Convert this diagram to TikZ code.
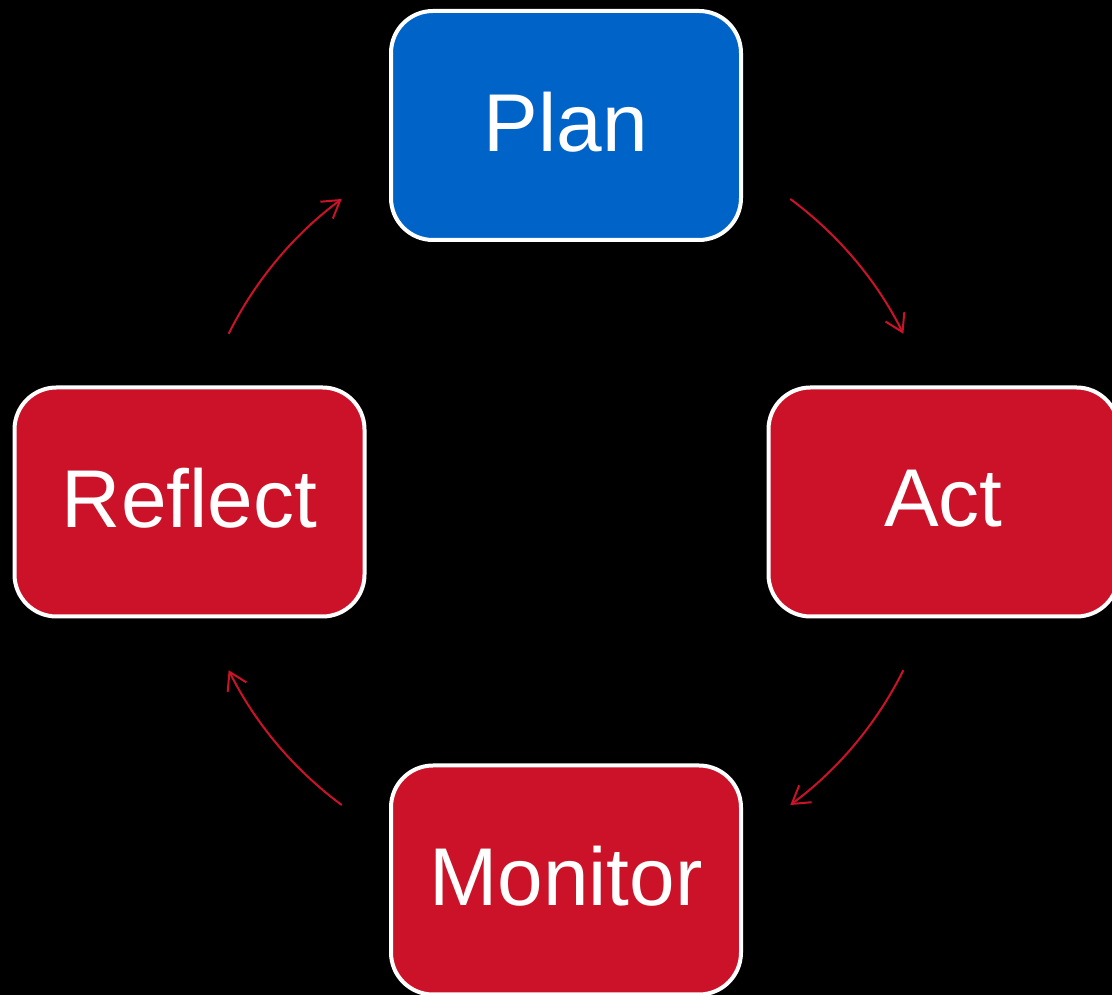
\documentclass[tikz,border=0pt]{standalone}
\usepackage{fontspec}
\setmainfont{Liberation Sans}
\usetikzlibrary{arrows.meta}
\definecolor{planblue}{RGB}{0,99,200}
\definecolor{stagered}{RGB}{204,18,40}
\begin{document}
\begin{tikzpicture}[x=1pt,y=1pt,
  stagebox/.style={draw=white, line width=4pt, rounded corners=42pt,
    minimum width=350pt, minimum height=229pt, inner sep=0pt,
    text=white, text depth=8pt, font=\fontsize{82}{98}\selectfont},
  cyc/.style={draw=stagered, line width=2pt,
    -{Straight Barb[length=17pt,width=21pt,line width=2pt]}}]
  % canvas and fixed frame
  \fill[black] (0,0) rectangle (1112,995);
  \useasboundingbox (0,0) rectangle (1112,995);

  % the four stages of the cycle
  \node[stagebox, fill=planblue] (plan)    at (566,869.5) {Plan};
  \node[stagebox, fill=stagered] (act)     at (943.5,493) {Act};
  \node[stagebox, fill=stagered] (monitor) at (566,115)   {Monitor};
  \node[stagebox, fill=stagered] (reflect) at (189.5,493) {Reflect};

  % circular path through the stages
  \coordinate (hub) at (566,493);
  \coordinate (planout)    at ([shift={(53.5:377pt)}]hub);
  \coordinate (actout)     at ([shift={(-26.5:377pt)}]hub);
  \coordinate (monitorout) at ([shift={(-126.5:377pt)}]hub);
  \coordinate (reflectout) at ([shift={(153.5:377pt)}]hub);

  \draw[cyc] (planout)    arc[start angle=53.5,   end angle=26.5,   radius=377pt];
  \draw[cyc] (actout)     arc[start angle=-26.5,  end angle=-53.5,  radius=377pt];
  \draw[cyc] (monitorout) arc[start angle=-126.5, end angle=-153.5, radius=377pt];
  \draw[cyc] (reflectout) arc[start angle=153.5,  end angle=126.5,  radius=377pt];
\end{tikzpicture}
\end{document}
